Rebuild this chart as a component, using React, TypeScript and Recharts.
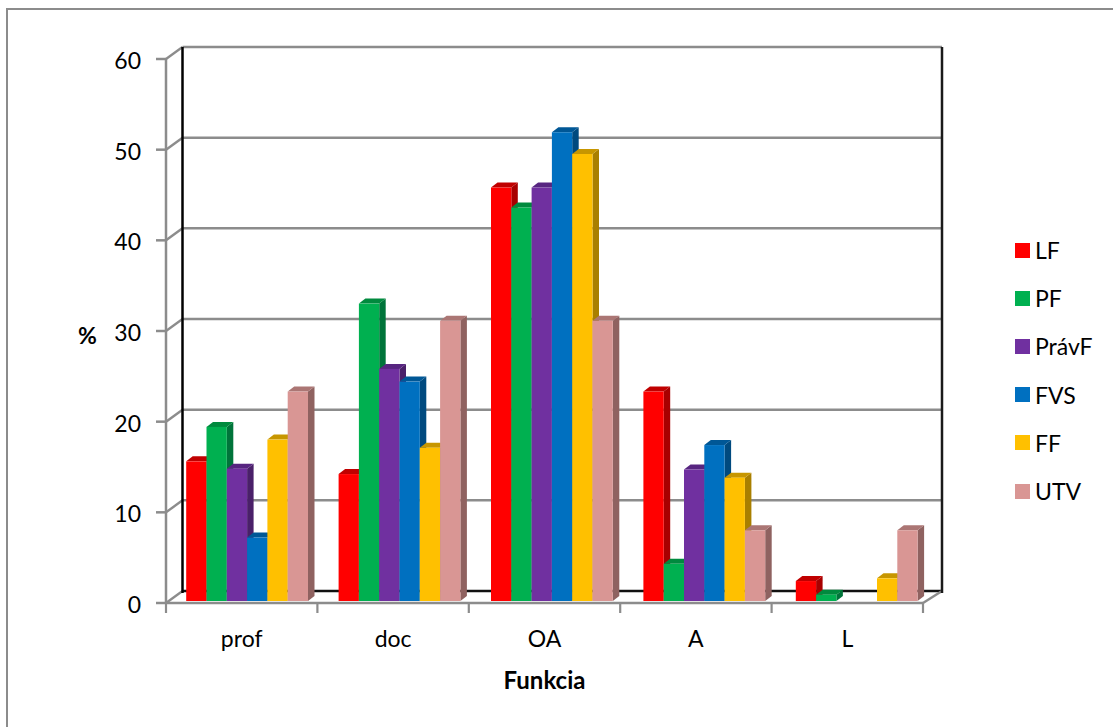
import React from "react";
import { BarChart, Bar, XAxis, YAxis, CartesianGrid, Legend } from "recharts";

const categories = ["prof", "doc", "OA", "A", "L"];
const seriesNames = ["LF", "PF", "PrávF", "FVS", "FF", "UTV"];
const LF = [15.4, 14.0, 45.6, 23.1, 2.2];
const PF = [19.2, 32.8, 43.4, 4.1, 0.7];
const PravF = [14.6, 25.6, 45.6, 14.5, 0];
const FVS = [7.0, 24.2, 51.7, 17.2, 0];
const FF = [17.8, 16.9, 49.3, 13.6, 2.5];
const UTV = [23.1, 30.9, 30.9, 7.8, 7.8];
const seriesValues = [LF, PF, PravF, FVS, FF, UTV];
const yTicks = [0, 10, 20, 30, 40, 50, 60];
const colors = ["#FF0000", "#00B050", "#7030A0", "#0070C0", "#FFC000", "#D99694"];
const topColors = ["#C00000", "#008A3E", "#572580", "#005796", "#C79600", "#AB7674"];
const sideColors = ["#A80000", "#00743A", "#4A2069", "#004A7F", "#A97F00", "#8F6260"];

const rows = categories.map((name, i) => {
  const row: Record<string, string | number> = { name };
  seriesNames.forEach((s, k) => {
    row[s] = seriesValues[k][i];
  });
  return row;
});

const FONT = "Lato, 'Open Sans', sans-serif";
const GRAY = "#8C8C8C";
const DX = 16.5;
const DY = -12;

const gridLine = (p: any) => {
  const { x1, x2, y1 } = p;
  const isFloor = y1 > 600;
  const isTop = y1 < 62;
  const bx1 = x1 + DX;
  const bx2 = x2 + 19;
  const by = y1 + DY;
  const band = (x2 - x1) / categories.length;
  return (
    <g key={p.key ?? y1}>
      <line x1={x1} y1={y1} x2={bx1} y2={by} stroke={GRAY} strokeWidth={2.4} />
      <line x1={bx1} y1={by} x2={bx2} y2={by} stroke={isFloor ? "#111" : GRAY} strokeWidth={2.5} />
      {isFloor && <line x1={x2} y1={y1} x2={bx2} y2={by} stroke={GRAY} strokeWidth={2.4} />}
      {isFloor &&
        [0, 1, 2, 3, 4, 5].map((k) => (
          <line key={k} x1={x1 + band * k} y1={y1} x2={x1 + band * k} y2={y1 + 10} stroke={GRAY} strokeWidth={2.2} />
        ))}
      {isTop && <line x1={bx1} y1={by} x2={bx1} y2={by + 546} stroke="#000" strokeWidth={2.5} />}
      {isTop && <line x1={bx2} y1={by} x2={bx2} y2={by + 546} stroke="#1A1A1A" strokeWidth={2.5} />}
    </g>
  );
};

const Bar3D = (idx: number) => (p: any) => {
  const { x, y, width, height, index } = p;
  if (!height || height <= 0) return <g />;
  const ox = 5.2 + 1 * (index ?? 0);
  const oy = -2;
  const l = x + ox;
  const r = l + width;
  const t = y + oy;
  const b = t + height;
  const d = 6.5;
  const e = 5;
  return (
    <g>
      <polygon points={`${r},${t} ${r + d},${t - e} ${r + d},${b - e} ${r},${b}`} fill={sideColors[idx]} />
      <polygon points={`${l},${t} ${l + d},${t - e} ${r + d},${t - e} ${r},${t}`} fill={topColors[idx]} />
      <rect x={l} y={t} width={width} height={height} fill={colors[idx]} />
    </g>
  );
};

const LegendBox = () => (
  <div style={{ fontFamily: FONT, fontSize: 23, color: "#000" }}>
    {seriesNames.map((s, i) => (
      <div key={s} style={{ display: "flex", alignItems: "center", height: 48.2 }}>
        <span style={{ width: 15, height: 15, background: colors[i], marginRight: 5, display: "inline-block" }} />
        <span>{s}</span>
      </div>
    ))}
  </div>
);

export default function App() {
  return (
    <div style={{ position: "fixed", left: 0, top: 0, width: 1113, height: 727, overflow: "hidden", background: "#fff" }}>
      <div style={{ position: "absolute", left: 6, top: 8, width: 1200, height: 900, border: `2px solid ${GRAY}` }} />
      <div style={{ position: "absolute", left: 0, top: 0 }}>
        <BarChart
          width={1113}
          height={727}
          data={rows}
          margin={{ top: 59, right: 92, bottom: 94, left: 0 }}
          barGap={0}
          barSize={20.3}
          style={{ fontFamily: FONT }}
        >
          <CartesianGrid vertical={false} horizontal={gridLine} />
          <XAxis
            dataKey="name"
            stroke={GRAY}
            strokeWidth={2.5}
            tickLine={false}
            tickSize={10}
            tickMargin={18}
            tick={{ fill: "#000", fontSize: 23 }}
            label={{ value: "Funkcia", position: "bottom", offset: 39, fill: "#000", fontSize: 24, fontWeight: 700 }}
          />
          <YAxis
            width={166}
            domain={[0, 60]}
            ticks={yTicks}
            interval={0}
            stroke={GRAY}
            strokeWidth={2.5}
            tickSize={10}
            tickMargin={15}
            tick={{ fill: "#000", fontSize: 23, dy: 2 }}
            label={{ value: "%", position: "insideLeft", offset: 78, dy: 5, fill: "#000", fontSize: 23, fontWeight: 700 }}
          />
          {seriesNames.map((s, i) => (
            <Bar key={s} dataKey={s} fill={colors[i]} isAnimationActive={false} shape={Bar3D(i)} />
          ))}
          <Legend
            layout="vertical"
            align="right"
            verticalAlign="top"
            content={<LegendBox />}
            wrapperStyle={{ position: "absolute", left: 1015, top: 226, width: 98, right: "auto" }}
          />
        </BarChart>
      </div>
    </div>
  );
}
